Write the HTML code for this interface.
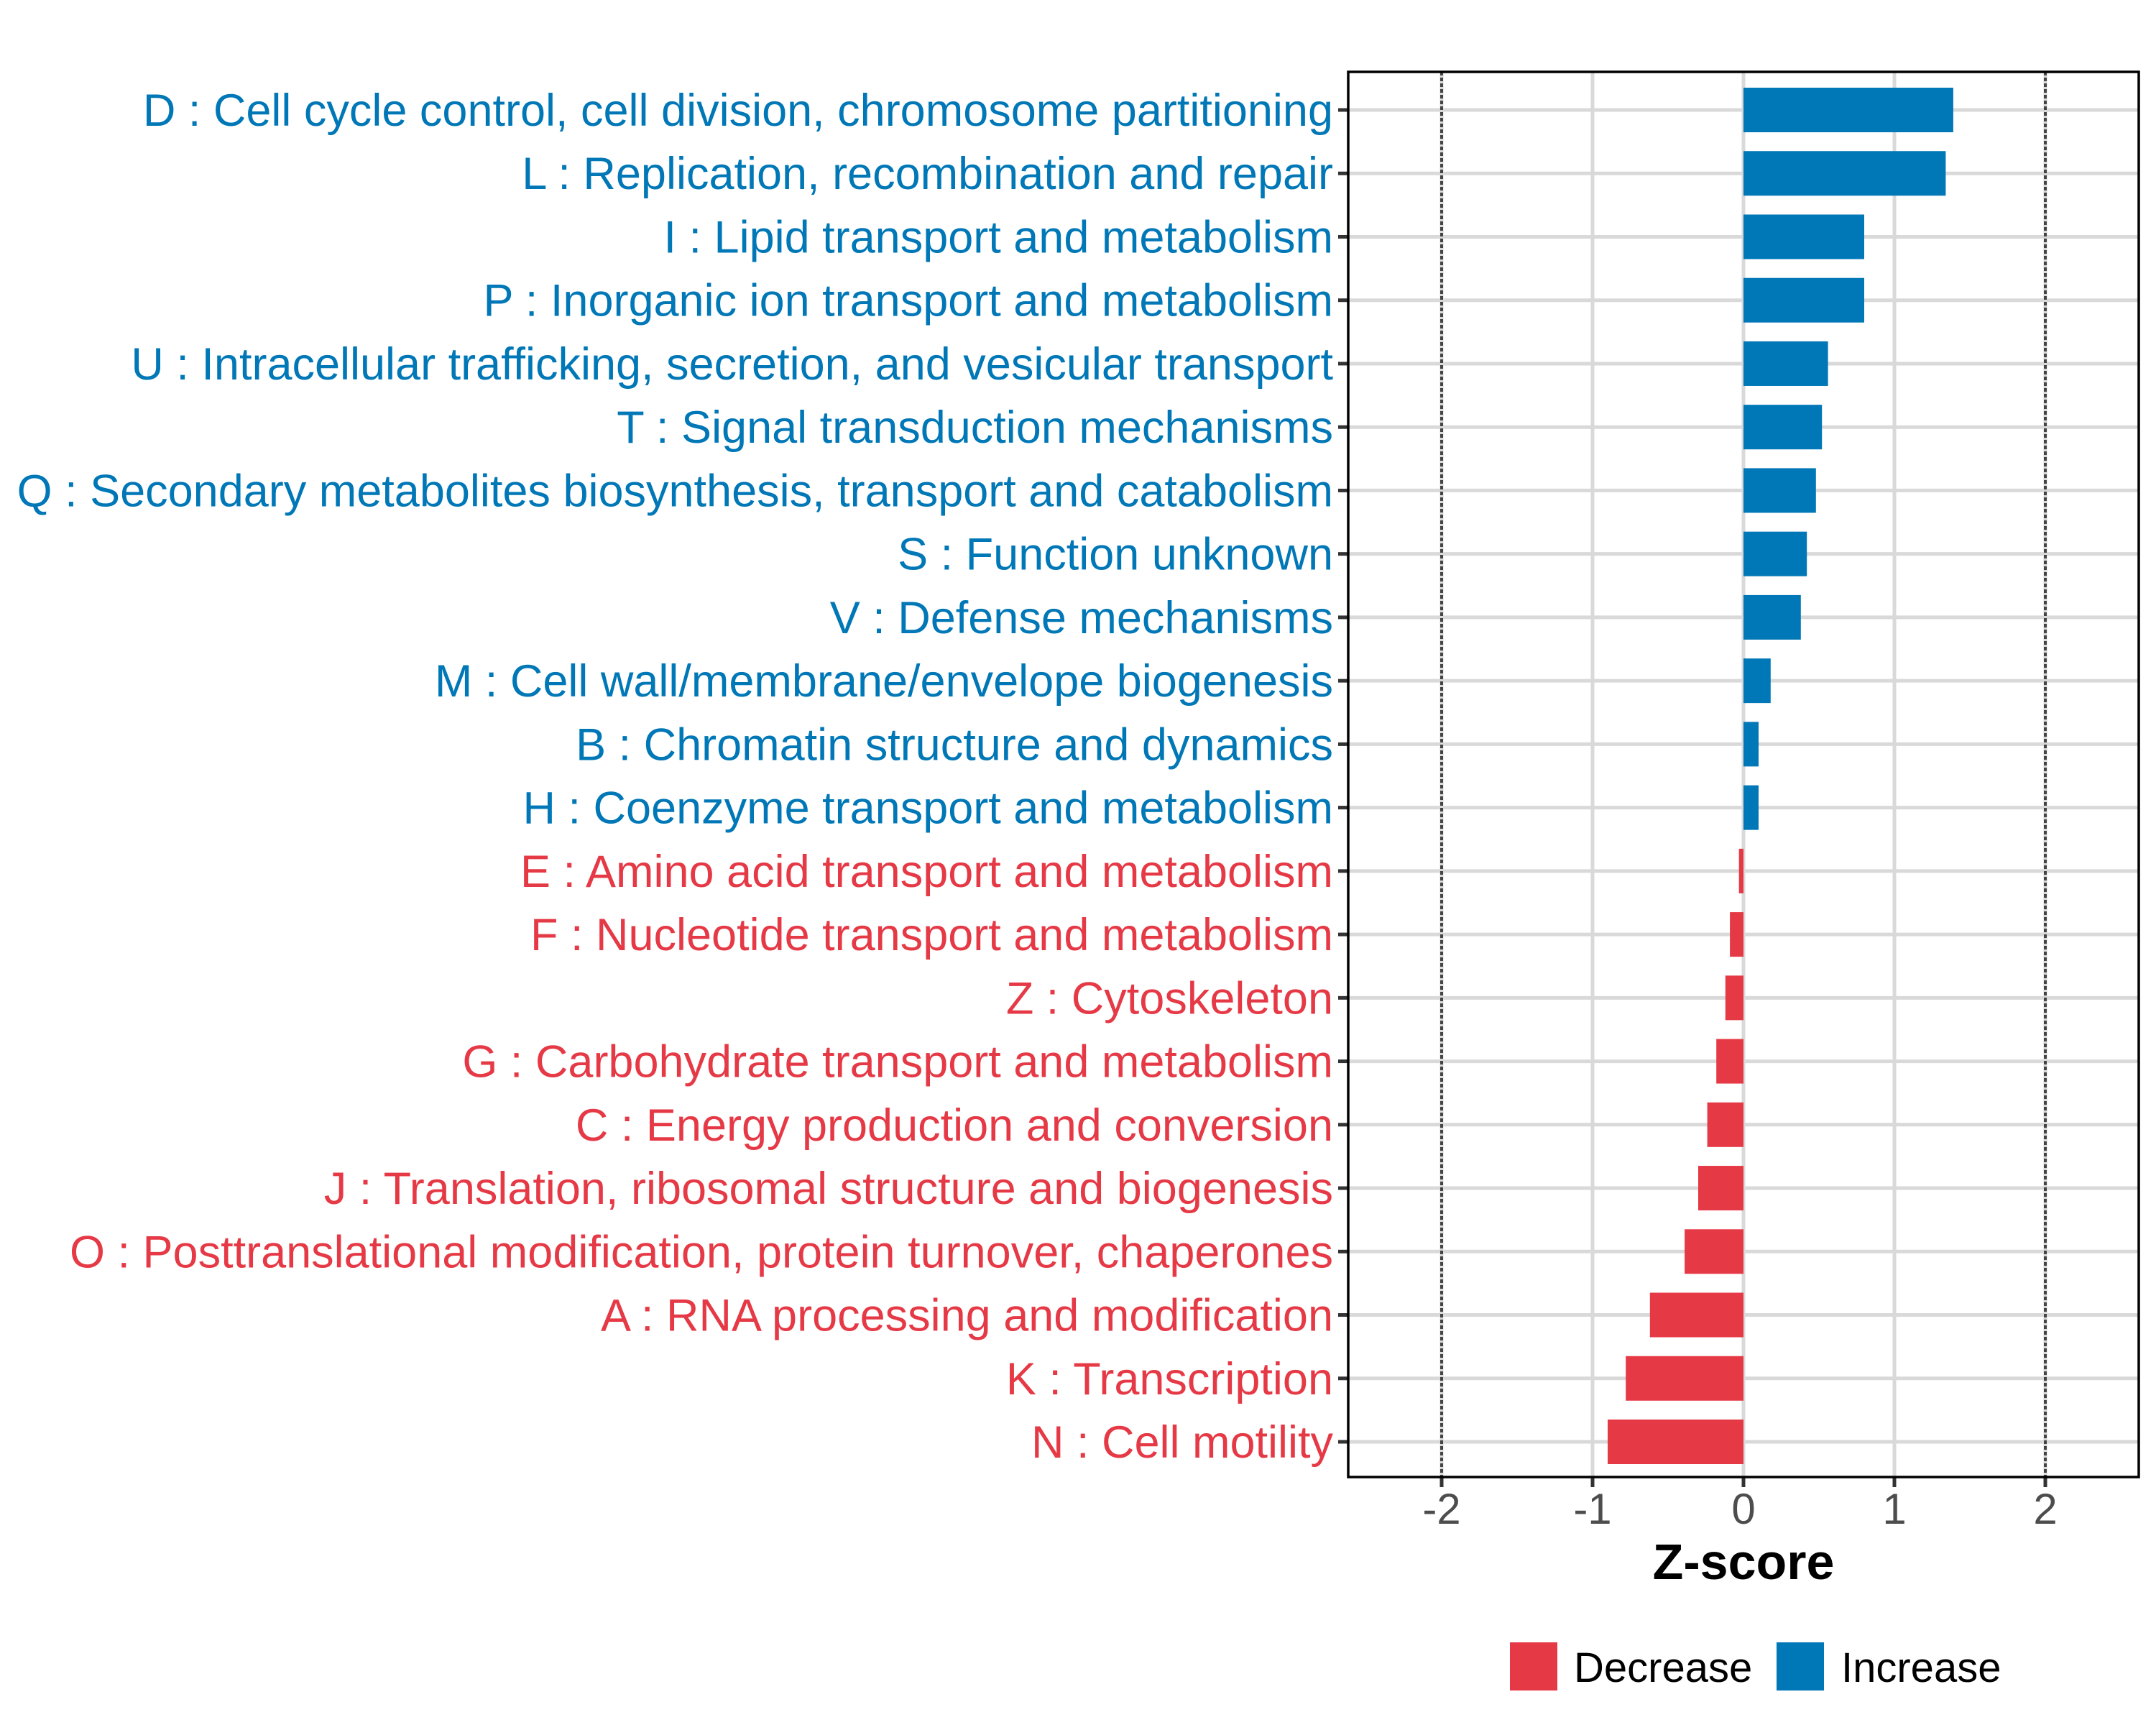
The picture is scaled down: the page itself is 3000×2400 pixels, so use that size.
<!DOCTYPE html>
<html><head><meta charset="utf-8"><style>
html,body{margin:0;padding:0;background:#fff}
svg{display:block;font-family:"Liberation Sans",Arial,sans-serif}
</style></head><body>
<svg id="chart" width="3000" height="2400" viewBox="0 0 3000 2400" xmlns="http://www.w3.org/2000/svg">
<g id="grid"></g>
<g id="bars"></g>
<g id="labels"></g>
<g id="xaxis"></g>
<rect x="1876" y="100" width="1100" height="1955" fill="none" stroke="#000" stroke-width="3.5"/>
<text x="2426" y="2197" font-size="70" font-weight="bold" text-anchor="middle">Z-score</text>
<g>
<rect x="2101" y="2285" width="66" height="67" fill="#E63946"/>
<text x="2190" y="2340" font-size="58">Decrease</text>
<rect x="2472" y="2285" width="66" height="67" fill="#0077B6"/>
<text x="2562" y="2340" font-size="58">Increase</text>
</g>
</svg>
<script>
const categories = ["D : Cell cycle control, cell division, chromosome partitioning","L : Replication, recombination and repair","I : Lipid transport and metabolism","P : Inorganic ion transport and metabolism","U : Intracellular trafficking, secretion, and vesicular transport","T : Signal transduction mechanisms","Q : Secondary metabolites biosynthesis, transport and catabolism","S : Function unknown","V : Defense mechanisms","M : Cell wall/membrane/envelope biogenesis","B : Chromatin structure and dynamics","H : Coenzyme transport and metabolism","E : Amino acid transport and metabolism","F : Nucleotide transport and metabolism","Z : Cytoskeleton","G : Carbohydrate transport and metabolism","C : Energy production and conversion","J : Translation, ribosomal structure and biogenesis","O : Posttranslational modification, protein turnover, chaperones","A : RNA processing and modification","K : Transcription","N : Cell motility"];
const zscores = [1.39,1.34,0.80,0.80,0.56,0.52,0.48,0.42,0.38,0.18,0.10,0.10,-0.03,-0.09,-0.12,-0.18,-0.24,-0.30,-0.39,-0.62,-0.78,-0.90];
const xTicks = [-2,-1,0,1,2];
const xTickLabels = ["-2","-1","0","1","2"];
const dashedAt = [-2,2];

const NS="http://www.w3.org/2000/svg";
const L=1876,R=2976,T=100,B=2055;
const x=v=>2426+v*210;
const y=i=>153+i*((2006-153)/(categories.length-1));
const bh=62;
function mk(tag,attrs,parent){const e=document.createElementNS(NS,tag);for(const k in attrs)e.setAttribute(k,attrs[k]);parent.appendChild(e);return e;}
const grid=document.getElementById('grid'),bars=document.getElementById('bars'),labels=document.getElementById('labels'),xa=document.getElementById('xaxis');
xTicks.forEach((t)=>{
  const g=mk('line',{x1:x(t),x2:x(t),y1:T,y2:B,stroke:'#d9d9d9','stroke-width':5},grid);
  
  
});
categories.forEach((c,i)=>{
  const g=mk('line',{x1:L,x2:R,y1:y(i),y2:y(i),stroke:'#d9d9d9','stroke-width':5},grid);
  
  
});
dashedAt.forEach(t=>{
  const d=mk('line',{x1:x(t),x2:x(t),y1:T,y2:B,stroke:'#444','stroke-width':4,'stroke-dasharray':'5 3'},grid);
  
  
});
categories.forEach((c,i)=>{
  const v=zscores[i],col=v>=0?'#0077B6':'#E63946';
  const r=mk('rect',{x:Math.min(x(0),x(v)),y:y(i)-bh/2,width:Math.abs(x(v)-x(0)),height:bh,fill:col},bars);
  
  
  const tk=mk('line',{x1:L-14,x2:L,y1:y(i),y2:y(i),stroke:'#333','stroke-width':5},labels);
  
  
  const tx=mk('text',{x:1855,y:y(i)+22,'font-size':63,'text-anchor':'end',fill:col},labels);
  tx.textContent=c;
  
  
});
xTicks.forEach((t,i)=>{
  const tk=mk('line',{x1:x(t),x2:x(t),y1:B,y2:B+14,stroke:'#333','stroke-width':5},xa);
  
  
  const tx=mk('text',{x:x(t),y:2120,'font-size':60,'text-anchor':'middle',fill:'#4d4d4d'},xa);
  tx.textContent=xTickLabels[i];
  
  
});
</script>
</body></html>
